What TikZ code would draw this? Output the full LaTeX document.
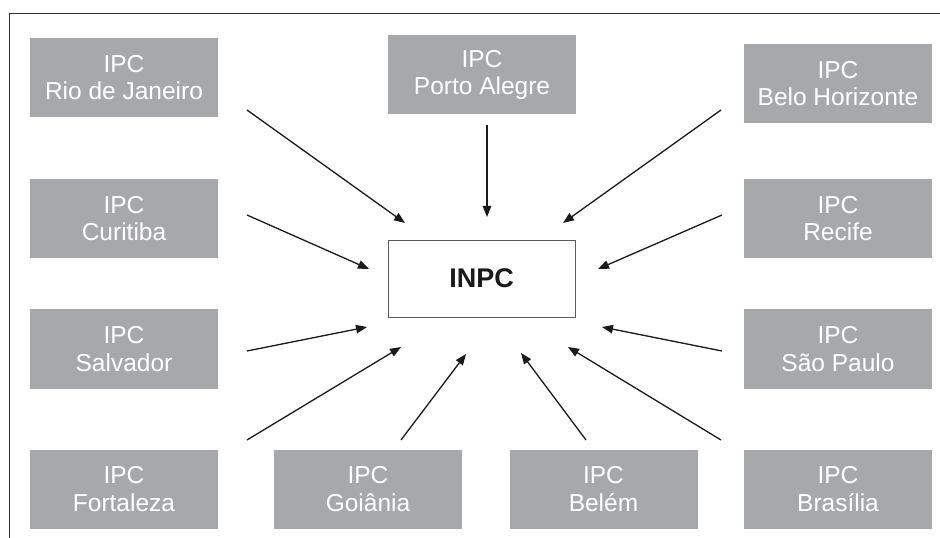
\documentclass[tikz,border=0pt]{standalone}
\usepackage{fontspec}
\setmainfont{Liberation Sans}
\usetikzlibrary{arrows.meta}
\definecolor{boxgray}{HTML}{A7A8AA}
\definecolor{inkc}{HTML}{1A1A1A}
\tikzset{
  ipcbox/.style={fill=boxgray, draw=none, text=white, align=center,
    minimum width=188bp, minimum height=79bp, inner sep=0pt,
    font=\fontsize{24.5bp}{27.5bp}\selectfont},
  centerbox/.style={draw=black!65, line width=0.9bp, fill=white, text=inkc,
    minimum width=187bp, minimum height=77bp, inner sep=0pt,
    font=\fontsize{27bp}{30bp}\selectfont\bfseries},
  feed/.style={draw=inkc, line width=1.3bp, -{Triangle[length=11bp,width=8.5bp]}},
  framel/.style={draw=black!80, line width=1bp}
}
\begin{document}
\begin{tikzpicture}[x=1bp,y=-1bp]
\useasboundingbox (0,0) rectangle (940,538);
\draw[framel] (940,13.3) -- (9.3,13.3) -- (9.3,538);

\node[ipcbox] (rio)       at (124,77.5)  {IPC\\Rio de Janeiro};
\node[ipcbox] (porto)     at (482,75)    {IPC\\Porto Alegre};
\node[ipcbox] (belo)      at (838,83.5)  {IPC\\Belo Horizonte};
\node[ipcbox] (curitiba)  at (124,218.5) {IPC\\Curitiba};
\node[ipcbox] (recife)    at (838,218.5) {IPC\\Recife};
\node[ipcbox] (salvador)  at (124,349)   {IPC\\Salvador};
\node[ipcbox] (saopaulo)  at (838,349)   {IPC\\São Paulo};
\node[ipcbox] (fortaleza) at (124,489)   {IPC\\Fortaleza};
\node[ipcbox] (goiania)   at (368,489)   {IPC\\Goiânia};
\node[ipcbox] (belem)     at (603.5,489) {IPC\\Belém};
\node[ipcbox] (brasilia)  at (838,489)   {IPC\\Brasília};

\node[centerbox] (inpc) at (481.5,278.5) {INPC};

% arrow start and end points
\coordinate (rioS) at (247,110);  \coordinate (rioE) at (405,223);
\coordinate (porS) at (487,125);  \coordinate (porE) at (487,217);
\coordinate (belS) at (721,110);  \coordinate (belE) at (563,223);
\coordinate (curS) at (247,215);  \coordinate (curE) at (369,269);
\coordinate (recS) at (722,215);  \coordinate (recE) at (598,269);
\coordinate (salS) at (247,351);  \coordinate (salE) at (367,327);
\coordinate (saoS) at (722,351);  \coordinate (saoE) at (602,327);
\coordinate (forS) at (247,440);  \coordinate (forE) at (401,347);
\coordinate (goiS) at (401,440);  \coordinate (goiE) at (466,354);
\coordinate (bemS) at (586,440);  \coordinate (bemE) at (521,353);
\coordinate (braS) at (721,440);  \coordinate (braE) at (568,347);

\draw[feed] (rioS) -- (rioE);
\draw[feed] (porS) -- (porE);
\draw[feed] (belS) -- (belE);
\draw[feed] (curS) -- (curE);
\draw[feed] (recS) -- (recE);
\draw[feed] (salS) -- (salE);
\draw[feed] (saoS) -- (saoE);
\draw[feed] (forS) -- (forE);
\draw[feed] (goiS) -- (goiE);
\draw[feed] (bemS) -- (bemE);
\draw[feed] (braS) -- (braE);
\end{tikzpicture}
\end{document}
